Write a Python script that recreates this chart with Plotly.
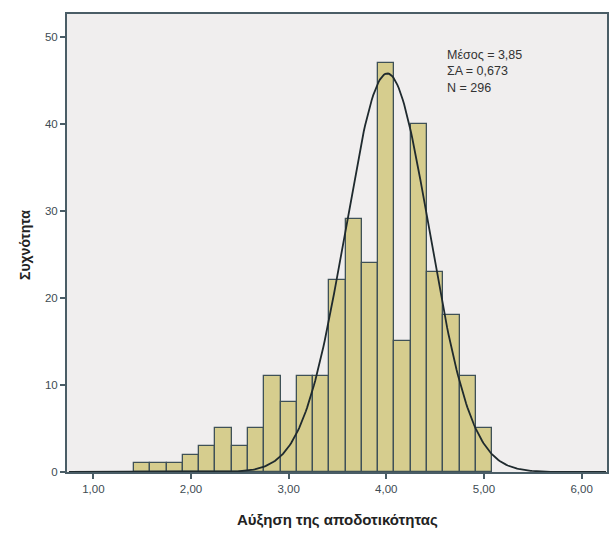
import numpy as np
import plotly.graph_objects as go

# Histogram data (bin centres, width 1/6)
bin_width = 1 / 6
bin_centers = [1.5 + k / 6 for k in range(22)]
counts = [1, 1, 1, 2, 3, 5, 3, 5, 11, 8, 11, 11, 22, 29, 24, 47, 15, 40, 23, 18, 11, 5]
n_total = 296

# Drawn normal curve parameters
curve_mean = 4.01
curve_sd = 0.43

x_ticks = [1, 2, 3, 4, 5, 6]
x_tick_labels = ["1,00", "2,00", "3,00", "4,00", "5,00", "6,00"]
y_ticks = [0, 10, 20, 30, 40, 50]

stats_text = ["Μέσος = 3,85", "ΣΑ = 0,673", "N = 296"]
x_title = "Αύξηση της αποδοτικότητας"
y_title = "Συχνότητα"

xs = np.linspace(0.75, 6.25, 400)
ys = n_total * bin_width / (curve_sd * np.sqrt(2 * np.pi)) * np.exp(-((xs - curve_mean) ** 2) / (2 * curve_sd ** 2))

W, H = 610, 533
L, R, T, B = 67, 3, 14, 61
pw, ph = W - L - R, H - T - B

def px(x):
    return (x - L) / pw

def py(y):
    return 1 - (y - T) / ph

fig = go.Figure()
fig.add_trace(go.Bar(
    x=bin_centers, y=counts, width=bin_width,
    marker=dict(color="#d6cd8e", line=dict(color="#3f5157", width=1.3)),
    showlegend=False, hoverinfo="x+y",
))
fig.add_trace(go.Scatter(
    x=xs, y=ys, mode="lines",
    line=dict(color="#1f2a2e", width=1.8), showlegend=False,
))

fig.add_annotation(
    x=px(445), y=py(46), xref="paper", yref="paper", text="<br>".join(stats_text),
    showarrow=False, xanchor="left", yanchor="top", align="left",
    font=dict(family="Liberation Sans, Arial", size=12.5, color="#333333"),
)
fig.add_annotation(
    x=px(337), y=py(519), xref="paper", yref="paper", text="<b>" + x_title + "</b>",
    showarrow=False, xanchor="center", yanchor="middle",
    font=dict(family="Liberation Sans, Arial", size=15, color="#222222"),
)
fig.add_annotation(
    x=px(25), y=py(245), xref="paper", yref="paper", text="<b>" + y_title + "</b>",
    showarrow=False, xanchor="center", yanchor="middle", textangle=-90,
    font=dict(family="Liberation Sans, Arial", size=14, color="#222222"),
)

axis_col = "#4a5d66"
fig.update_layout(
    width=W, height=H,
    margin=dict(l=L, r=R, t=T, b=B, autoexpand=False),
    paper_bgcolor="white", plot_bgcolor="#f0eeee",
    bargap=0,
    font=dict(family="Liberation Sans, Arial", color="#333333"),
    xaxis=dict(
        range=[0.73, 6.26], tickvals=x_ticks, ticktext=x_tick_labels,
        ticks="outside", ticklen=5, tickcolor=axis_col, tickwidth=1.5,
        showline=True, linecolor=axis_col, linewidth=2, mirror=True,
        showgrid=False, zeroline=False, automargin=False,
        tickfont=dict(size=11.5, color="#3d4b52"),
    ),
    yaxis=dict(
        range=[0, 52.6], tickvals=y_ticks,
        ticks="outside", ticklen=5, tickcolor=axis_col, tickwidth=1.5,
        showline=True, linecolor=axis_col, linewidth=2, mirror=True,
        showgrid=False, zeroline=False, automargin=False,
        tickfont=dict(size=11.5, color="#3d4b52"),
    ),
)

fig.write_html(
    "out.html",
    config={"displayModeBar": False},
    post_script="document.body.style.margin='0';document.body.style.overflow='hidden';",
)
